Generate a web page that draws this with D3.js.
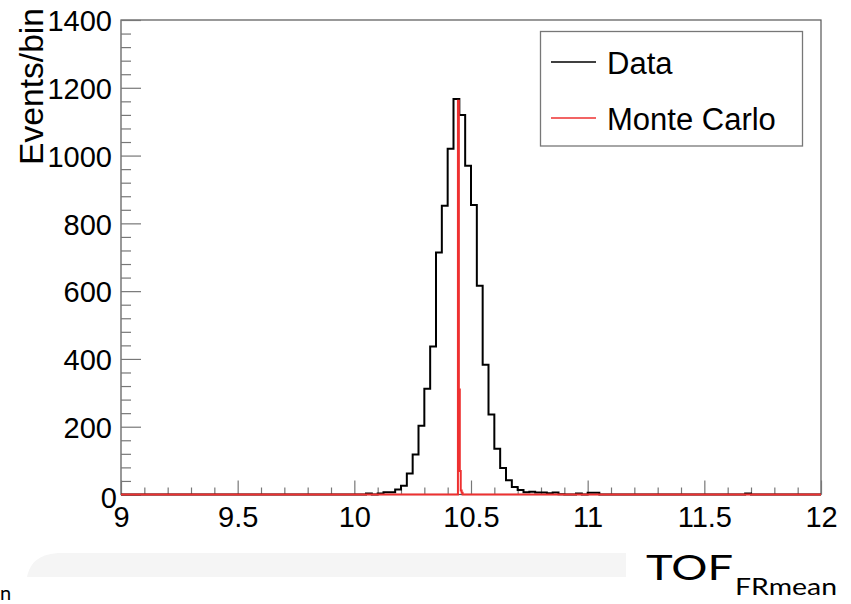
<!DOCTYPE html>
<html>
<head>
<meta charset="utf-8">
<script src="https://cdn.jsdelivr.net/npm/d3@7"></script>
<style>
  html, body { margin: 0; padding: 0; background: #fff; }
  svg { display: block; }
  text { font-family: "Liberation Sans", Arial, Helvetica, sans-serif; }
</style>
</head>
<body>
<svg id="chart" width="851" height="604"></svg>
<script>
// Histogram range and binning
const xDomain = [9, 12];
const yDomain = [0, 1400];
const dataBinWidth = 0.025;

// Data: counts per 0.025 bin from 9.000 to 12.000 (120 bins)
const dataCounts = [
  0, 0, 0, 0, 0, 0, 0, 0, 0, 0,          // 9.00 - 9.25
  0, 0, 0, 0, 0, 0, 0, 0, 0, 0,          // 9.25 - 9.50
  0, 0, 0, 0, 0, 0, 0, 0, 0, 0,          // 9.50 - 9.75
  0, 0, 0, 0, 0, 0, 0, 0, 0, 0,          // 9.75 - 10.00
  0, 0, 3, 0, 3, 7, 7, 15, 26, 62,       // 10.00 - 10.25
  118, 203, 312, 437, 714, 852, 1020, 1167, 1120, 970,   // 10.25 - 10.50
  854, 616, 383, 236, 135, 78, 42, 22, 13, 7,            // 10.50 - 10.75
  8, 6, 6, 4, 6, 1, 0, 0, 3, 0,          // 10.75 - 11.00
  5, 5, 0, 0, 0, 0, 0, 0, 0, 0,          // 11.00 - 11.25
  0, 0, 0, 0, 0, 0, 0, 0, 0, 0,          // 11.25 - 11.50
  0, 0, 0, 0, 0, 0, 0, 3, 0, 0,          // 11.50 - 11.75
  0, 0, 0, 0, 0, 0, 0, 0, 0, 0           // 11.75 - 12.00
];

// Monte Carlo: narrow spike, fine bins (low edge, count); empty elsewhere
const mcBinWidth = 0.004;
const mcBinLow = [10.440, 10.444, 10.448, 10.452, 10.456, 10.460, 10.464];
const mcCounts = [0, 1162, 310, 69, 12, 5, 0];

// Axis ticks
const xMajorTicks = [9, 9.5, 10, 10.5, 11, 11.5, 12];
const xTickLabels = ["9", "9.5", "10", "10.5", "11", "11.5", "12"];
const yMajorTicks = [0, 200, 400, 600, 800, 1000, 1200, 1400];
const yTickLabels = ["0", "200", "400", "600", "800", "1000", "1200", "1400"];

const legendLabels = ["Data", "Monte Carlo"];
const colors = { data: "#000000", mc: "#ee3030" };

// Layout
const frame = { left: 121, right: 821, top: 20, bottom: 494.5 };

const svg = d3.select("#chart");

const x = d3.scaleLinear().domain(xDomain).range([frame.left, frame.right]);
const y = d3.scaleLinear().domain(yDomain).range([frame.bottom, frame.top]);

// Faint band at the bottom of the canvas
svg.append("path")
  .attr("d", "M27,577 C30,562 40,553 62,553 L626,553 L626,577 Z")
  .attr("fill", "#f5f5f5");

// Frame box
svg.append("rect")
  .attr("x", frame.left).attr("y", frame.top)
  .attr("width", frame.right - frame.left)
  .attr("height", frame.bottom - frame.top)
  .attr("fill", "none")
  .attr("stroke", "#555")
  .attr("stroke-width", 1.2);

// Minor ticks
const xMinor = d3.range(90, 121).map(d => d / 10).filter(v => !xMajorTicks.includes(v));
const yMinor = d3.range(0, 1401, 40).filter(v => v % 200 !== 0);

const axisTickColor = "#777";

const xMinorAxis = svg.append("g")
  .attr("transform", `translate(0,${frame.bottom})`)
  .call(d3.axisBottom(x).tickValues(xMinor).tickSize(-7).tickFormat(""));
const xAxis = svg.append("g")
  .attr("transform", `translate(0,${frame.bottom})`)
  .call(d3.axisBottom(x).tickValues(xMajorTicks).tickSize(-14).tickPadding(12)
    .tickFormat((d, i) => xTickLabels[i]));

const yMinorAxis = svg.append("g")
  .attr("transform", `translate(${frame.left},0)`)
  .call(d3.axisLeft(y).tickValues(yMinor).tickSize(-10).tickFormat(""));
const yAxis = svg.append("g")
  .attr("transform", `translate(${frame.left},0)`)
  .call(d3.axisLeft(y).tickValues(yMajorTicks).tickSize(-20).tickPadding(9)
    .tickFormat((d, i) => yTickLabels[i]));

[xMinorAxis, xAxis, yMinorAxis, yAxis].forEach(g => {
  g.select(".domain").remove();
  g.selectAll(".tick line").attr("stroke", axisTickColor).attr("stroke-width", 1.2);
  g.selectAll("text").attr("fill", "#000").style("font-size", "29px");
});
yAxis.selectAll("text").attr("dy", "0.37em");
// the zero label sits a little right and low, clear of the x labels
yAxis.selectAll(".tick").filter(d => d === 0).select("text")
  .attr("dx", 5).attr("dy", "0.45em");

// Step outline for a histogram given bin low edges, width and counts
function stepPoints(lows, width, counts) {
  const pts = [[xDomain[0], 0]];
  lows.forEach((lo, i) => {
    pts.push([lo, counts[i]]);
    pts.push([lo + width, counts[i]]);
  });
  pts.push([xDomain[1], 0]);
  return pts;
}
const histLine = d3.line().x(d => x(d[0])).y(d => y(d[1]));

const dataLows = dataCounts.map((_, i) => xDomain[0] + i * dataBinWidth);
svg.append("path")
  .attr("d", histLine(stepPoints(dataLows, dataBinWidth, dataCounts)))
  .attr("fill", "none")
  .attr("stroke", colors.data)
  .attr("stroke-width", 2)
  .attr("stroke-linejoin", "miter");

svg.append("path")
  .attr("d", histLine(stepPoints(mcBinLow, mcBinWidth, mcCounts)))
  .attr("fill", "none")
  .attr("stroke", colors.mc)
  .attr("stroke-width", 2)
  .attr("stroke-linejoin", "miter");

// Y axis title
svg.append("text")
  .attr("transform", `translate(43,8) rotate(-90)`)
  .attr("text-anchor", "end")
  .style("font-size", "33px")
  .attr("textLength", 157)
  .attr("lengthAdjust", "spacingAndGlyphs")
  .attr("fill", "#000")
  .text("Events/bin");

// Legend
const legend = svg.append("g");
legend.append("rect")
  .attr("x", 540.5).attr("y", 31.5).attr("width", 262).attr("height", 114.5)
  .attr("fill", "#fff").attr("stroke", "#777").attr("stroke-width", 1.3);
const legendColors = [colors.data, colors.mc];
legendLabels.forEach((lab, i) => {
  const cy = 62 + i * 56;
  legend.append("line")
    .attr("x1", 551).attr("x2", 596).attr("y1", cy).attr("y2", cy)
    .attr("stroke", legendColors[i]).attr("stroke-width", 1.5);
  legend.append("text")
    .attr("x", 607).attr("y", cy + 11.5)
    .style("font-size", "31px")
    .attr("fill", "#000")
    .text(lab);
});

// X axis title: TOF with subscript
const titleFont = "Lato, 'Open Sans', sans-serif";
svg.append("text")
  .attr("x", 646).attr("y", 580)
  .style("font-family", titleFont)
  .style("font-size", "35px")
  .attr("textLength", 87)
  .attr("lengthAdjust", "spacingAndGlyphs")
  .attr("fill", "#000")
  .text("TOF");
svg.append("text")
  .attr("x", 735).attr("y", 595)
  .style("font-family", titleFont)
  .style("font-size", "24px")
  .attr("textLength", 102)
  .attr("lengthAdjust", "spacingAndGlyphs")
  .attr("fill", "#000")
  .text("FRmean");

// Stray glyph at the lower-left edge
svg.append("text")
  .attr("x", 0).attr("y", 600)
  .style("font-family", "Lato, sans-serif")
  .style("font-size", "20px")
  .attr("fill", "#000")
  .text("n");
</script>
</body>
</html>
